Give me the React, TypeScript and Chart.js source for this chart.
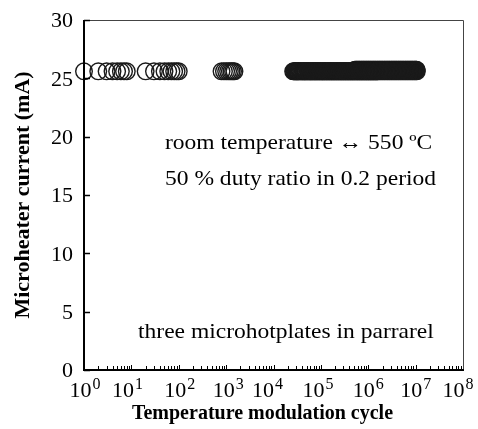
import React, { useEffect, useRef } from "react";
import { Chart, registerables } from "chart.js";

Chart.register(...registerables);

// ---- data ----
// sweep A: all measured cycles, current ~25.6 mA
const sweepACycles = [
  1, 2, 3, 4, 5, 6, 7, 8,
  20, 30, 40, 50, 60, 70, 80, 90, 100,
  800, 900, 1000, 1100, 1200, 1300, 1400, 1500,
  26000, 27000, 28000, 29000, 30000, 31000, 32000, 33000, 34000, 35500,
  37000, 38500, 40000, 41500, 43000, 44500, 46000, 47500, 49000, 51000,
  53000, 55000, 57000, 59000, 61000, 63000, 65000, 67500, 70000, 72500,
  75000, 77500, 80000, 83000, 86000, 89000, 92000, 95500, 99000, 102500,
  106000, 109500, 113000, 117000, 121000, 125500, 130000, 134500, 139000, 144000,
  149000, 154500, 160000, 165500, 171000, 177000, 183000, 189500, 196000, 203000,
  210000, 217500, 225000, 233000, 241000, 249500, 258000, 267000, 276000, 285500,
  295000, 305500, 316000, 327000, 338000, 350000, 362000, 374500, 387000, 400000,
  414000, 428000, 443000, 458000, 474000, 490000, 507000, 525000, 543000, 562000,
  581000, 601000, 622000, 643000, 665000, 688000, 712000, 737000, 762000, 788000,
  815000, 843000, 872000, 902000, 933000, 965000, 998000, 1030000, 1070000, 1100000,
  1140000, 1180000, 1220000, 1260000, 1310000, 1350000, 1400000, 1450000, 1500000, 1550000,
  1600000, 1710000, 1830000, 1960000, 2100000, 2250000, 2410000, 2580000, 2760000, 2950000,
  3160000, 3380000, 3620000, 3870000, 4140000, 4430000, 4740000, 5070000, 5430000, 5810000,
  6220000, 6650000, 7120000, 7620000, 8150000, 8720000, 9330000, 9980000, 10600000,
];
const sweepACurrent = 25.6;

// sweep B: later cycles, current slightly higher ~25.73 mA
const sweepBCycles = [
  520000, 540000, 560000, 578000, 600000, 620000, 641000, 663000, 686000, 710000,
  735000, 760000, 786000, 813000, 841000, 870000, 900000, 930000, 962000, 995000,
  1030000, 1065000, 1100000, 1140000, 1180000, 1220000, 1262000, 1305000, 1350000, 1395000,
  1445000, 1495000, 1545000, 1600000, 1655000, 1710000, 1770000, 1830000, 1895000, 1960000,
  2030000, 2100000, 2175000, 2250000, 2330000, 2410000, 2495000, 2580000, 2670000, 2760000,
  2855000, 2950000, 3055000, 3160000, 3270000, 3380000, 3500000, 3620000, 3745000, 3870000,
  4005000, 4140000, 4285000, 4430000, 4585000, 4740000, 4905000, 5070000, 5250000, 5430000,
  5620000, 5810000, 6015000, 6220000, 6435000, 6650000, 6885000, 7120000, 7370000, 7620000,
  7885000, 8150000, 8435000, 8720000, 9025000, 9330000, 9655000, 9980000, 10250000, 10550000,
];
const sweepBCurrent = 25.73;

const xDecades = [1, 1e1, 1e2, 1e3, 1e4, 1e5, 1e6, 1e7, 1e8];
const xExponents = ["0", "1", "2", "3", "4", "5", "6", "7", "8"];
const yTicks = [0, 5, 10, 15, 20, 25, 30];

const xTitle = "Temperature modulation cycle";
const yTitle = "Microheater current (mA)";
const notes = [
  "room temperature \u2194 550 \u00baC",
  "50 % duty ratio in 0.2 period",
  "three microhotplates in parrarel",
];

// ---- styling ----
const SERIF = '"Liberation Serif", "Times New Roman", serif';
const labelNudge = [1, -4, 1, 2, -6, -3, 0, 0, -5];
const notePos = [
  { x: 165, y: 149 },
  { x: 165, y: 185 },
  { x: 138, y: 338 },
];

const decorPlugin = {
  id: "decor",
  afterDraw(chart: any) {
    const { ctx, chartArea: a, scales } = chart;
    const xs = scales.x;
    const ys = scales.y;
    ctx.save();

    // top / right frame
    ctx.strokeStyle = "#444";
    ctx.lineWidth = 1;
    ctx.beginPath();
    ctx.moveTo(a.left, a.top + 0.5);
    ctx.lineTo(a.right + 0.5, a.top + 0.5);
    ctx.lineTo(a.right + 0.5, a.bottom);
    ctx.stroke();

    // left / bottom axes
    ctx.strokeStyle = "#000";
    ctx.lineWidth = 2;
    ctx.beginPath();
    ctx.moveTo(a.left, a.top);
    ctx.lineTo(a.left, a.bottom);
    ctx.lineTo(a.right + 1, a.bottom);
    ctx.stroke();

    // y ticks (inward)
    ctx.lineWidth = 1.5;
    ctx.beginPath();
    for (const v of yTicks) {
      const py = Math.round(ys.getPixelForValue(v)) + 0.5;
      ctx.moveTo(a.left, py);
      ctx.lineTo(a.left + 6, py);
    }
    ctx.stroke();

    // y tick labels
    ctx.fillStyle = "#000";
    ctx.font = `22px ${SERIF}`;
    ctx.textAlign = "right";
    ctx.textBaseline = "middle";
    for (const v of yTicks) {
      ctx.fillText(String(v), a.left - 11, ys.getPixelForValue(v) + 1.5);
    }

    // x ticks (inward), minor ticks per decade
    ctx.lineWidth = 1;
    ctx.beginPath();
    for (let i = 0; i < xDecades.length - 1; i++) {
      for (let m = 1; m <= 9; m++) {
        const v = xDecades[i] * m;
        const px = Math.round(xs.getPixelForValue(v)) + 0.5;
        const len = m === 1 ? 5 : 4;
        ctx.moveTo(px, a.bottom);
        ctx.lineTo(px, a.bottom - len);
      }
    }
    ctx.stroke();

    // x tick labels with superscripts
    ctx.textAlign = "left";
    ctx.textBaseline = "alphabetic";
    xDecades.forEach((v, i) => {
      const px = xs.getPixelForValue(v) + labelNudge[i];
      ctx.font = `22px ${SERIF}`;
      const w1 = ctx.measureText("10").width;
      ctx.font = `16px ${SERIF}`;
      const w2 = ctx.measureText(xExponents[i]).width;
      const start = px - (w1 + 1 + w2) / 2;
      ctx.font = `22px ${SERIF}`;
      ctx.fillText("10", start, 397);
      ctx.font = `16px ${SERIF}`;
      ctx.fillText(xExponents[i], start + w1 + 1, 389);
    });

    // axis titles
    ctx.font = `bold 20px ${SERIF}`;
    ctx.textAlign = "center";
    ctx.fillText(xTitle, (a.left + a.right) / 2 - 11, 419);

    ctx.save();
    ctx.translate(23, (a.top + a.bottom) / 2);
    ctx.rotate(-Math.PI / 2);
    ctx.font = `bold 22px ${SERIF}`;
    ctx.textBaseline = "middle";
    ctx.fillText(yTitle, 0, 0);
    ctx.restore();

    // annotations
    ctx.font = `21px ${SERIF}`;
    ctx.textAlign = "left";
    ctx.textBaseline = "alphabetic";
    notes.forEach((t, i) => {
      ctx.save();
      ctx.translate(notePos[i].x, notePos[i].y);
      ctx.scale(1.12, 1);
      ctx.fillText(t, 0, 0);
      ctx.restore();
    });

    ctx.restore();
  },
};

export default function App() {
  const canvasRef = useRef<HTMLCanvasElement | null>(null);

  useEffect(() => {
    if (!canvasRef.current) return;
    const pointStyle = {
      showLine: false,
      pointStyle: "circle",
      pointRadius: 8.3,
      pointHoverRadius: 8.3,
      pointBorderWidth: 1.4,
      pointBackgroundColor: "rgba(0,0,0,0)",
      pointBorderColor: "#1a1a1a",
      borderColor: "#1a1a1a",
      backgroundColor: "rgba(0,0,0,0)",
      clip: false as any,
    };
    const chart = new Chart(canvasRef.current, {
      type: "scatter",
      data: {
        datasets: [
          {
            label: "sweep A",
            data: sweepACycles.map((c) => ({ x: c, y: sweepACurrent })),
            ...pointStyle,
          },
          {
            label: "sweep B",
            data: sweepBCycles.map((c) => ({ x: c, y: sweepBCurrent })),
            ...pointStyle,
          },
        ],
      },
      options: {
        animation: false,
        responsive: true,
        maintainAspectRatio: false,
        layout: { padding: { left: 0, top: 20, right: 15, bottom: 0 } },
        plugins: {
          legend: { display: false },
          tooltip: { enabled: false },
        },
        scales: {
          x: {
            type: "logarithmic",
            min: 1,
            max: 1e8,
            grid: { display: false },
            border: { display: false },
            ticks: { display: false },
            afterFit: (s: any) => {
              s.height = 59;
            },
          },
          y: {
            type: "linear",
            min: 0,
            max: 30,
            grid: { display: false, drawTicks: false },
            border: { display: false },
            ticks: { display: false },
            afterFit: (s: any) => {
              s.width = 84;
            },
          },
        },
      },
      plugins: [decorPlugin],
    });
    return () => chart.destroy();
  }, []);

  return (
    <div
      style={{
        position: "fixed",
        left: 0,
        top: 0,
        width: 478,
        height: 429,
        background: "#fff",
      }}
    >
      <canvas ref={canvasRef} />
    </div>
  );
}
